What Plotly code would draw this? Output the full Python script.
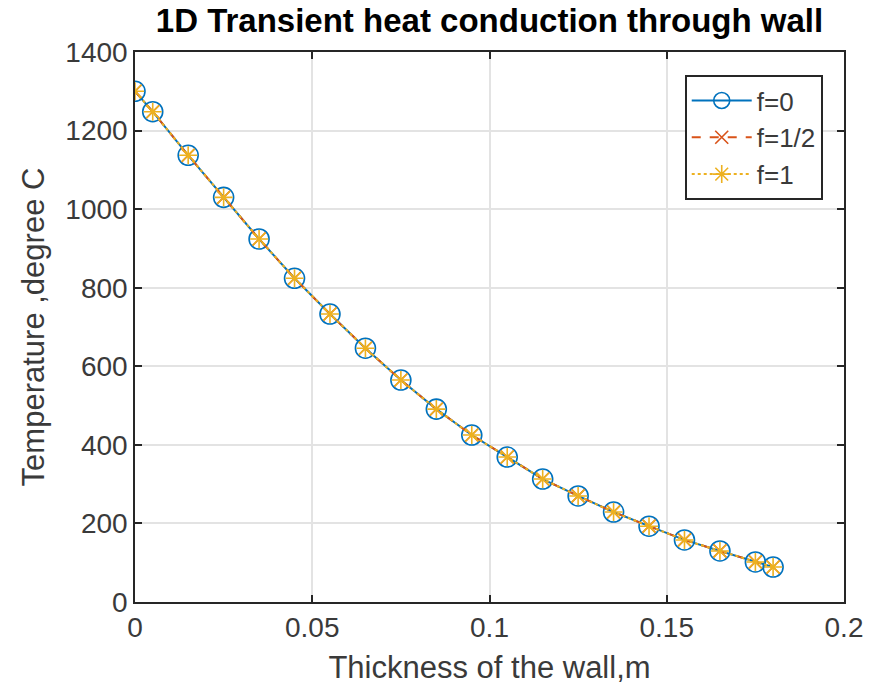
import plotly.graph_objects as go

thickness = [0, 0.005, 0.015, 0.025, 0.035, 0.045, 0.055, 0.065, 0.075, 0.085,
             0.095, 0.105, 0.115, 0.125, 0.135, 0.145, 0.155, 0.165, 0.175, 0.18]
temp_f0 = [1300, 1248, 1137, 1030, 924, 824, 733, 646, 565, 491,
           425, 369, 313, 270, 229, 193, 158, 130, 102, 89]
temp_f_half = [1300, 1248, 1137, 1030, 924, 824, 733, 646, 565, 491,
               425, 369, 313, 270, 229, 193, 158, 130, 102, 89]
temp_f1 = [1300, 1248, 1137, 1030, 924, 824, 733, 646, 565, 491,
           425, 369, 313, 270, 229, 193, 158, 130, 102, 89]
series_names = ["f=0", "f=1/2", "f=1"]
x_ticks = [0, 0.05, 0.1, 0.15, 0.2]
y_ticks = [0, 200, 400, 600, 800, 1000, 1200, 1400]

FONT = "Arial, Liberation Sans, Helvetica, sans-serif"
AX = "#262626"
TXT = "#3A3A3A"

fig = go.Figure()
fig.add_trace(go.Scatter(
    x=thickness, y=temp_f0, name=series_names[0], mode="lines+markers",
    line=dict(color="#0072BD", width=2),
    marker=dict(symbol="circle-open", size=20, color="#0072BD", line=dict(width=1.6, color="#0072BD"))))
fig.add_trace(go.Scatter(
    x=thickness, y=temp_f_half, name=series_names[1], mode="lines+markers",
    line=dict(color="#D95319", width=2, dash="dash"),
    marker=dict(symbol="x-thin-open", size=13, color="#D95319", line=dict(width=1.6, color="#D95319"))))
fig.add_trace(go.Scatter(
    x=thickness, y=temp_f1, name=series_names[2], mode="lines+markers",
    line=dict(color="#EDB120", width=2, dash="dot"),
    marker=dict(symbol="asterisk-open", size=15, color="#EDB120", line=dict(width=1.6, color="#EDB120"))))

axis_common = dict(
    showline=True, linecolor=AX, linewidth=1.5, mirror="ticks",
    ticks="inside", ticklen=7, tickwidth=1.5, tickcolor=AX,
    showgrid=True, gridcolor="#E3E3E3", gridwidth=1.5,
    zeroline=False, tickfont=dict(family=FONT, size=28, color=TXT),
    title_font=dict(family=FONT, size=31, color=TXT),
)

fig.update_xaxes(range=[0, 0.2], tickvals=x_ticks, ticktext=["0", "0.05", "0.1", "0.15", "0.2"],
                 title_text="Thickness of the wall,m", title_standoff=14, **axis_common)
fig.update_yaxes(range=[0, 1400], tickvals=y_ticks,
                 title_text="Temperature ,degree C", title_standoff=12, **axis_common)

fig.update_layout(
    width=875, height=696,
    margin=dict(l=135, r=29, t=52, b=94),
    paper_bgcolor="white", plot_bgcolor="white",
    title=dict(text="<b>1D Transient heat conduction through wall</b>",
               font=dict(family=FONT, size=33, color="black"),
               x=0.5, xanchor="center", xref="paper", y=0.987, yanchor="top"),
    legend=dict(x=0.97, xanchor="right", y=0.958, yanchor="top",
                bgcolor="white", bordercolor=AX, borderwidth=2,
                font=dict(family=FONT, size=26, color=TXT),
                itemwidth=60, tracegroupgap=0),
    showlegend=True,
)

fig.write_html("out.html")
